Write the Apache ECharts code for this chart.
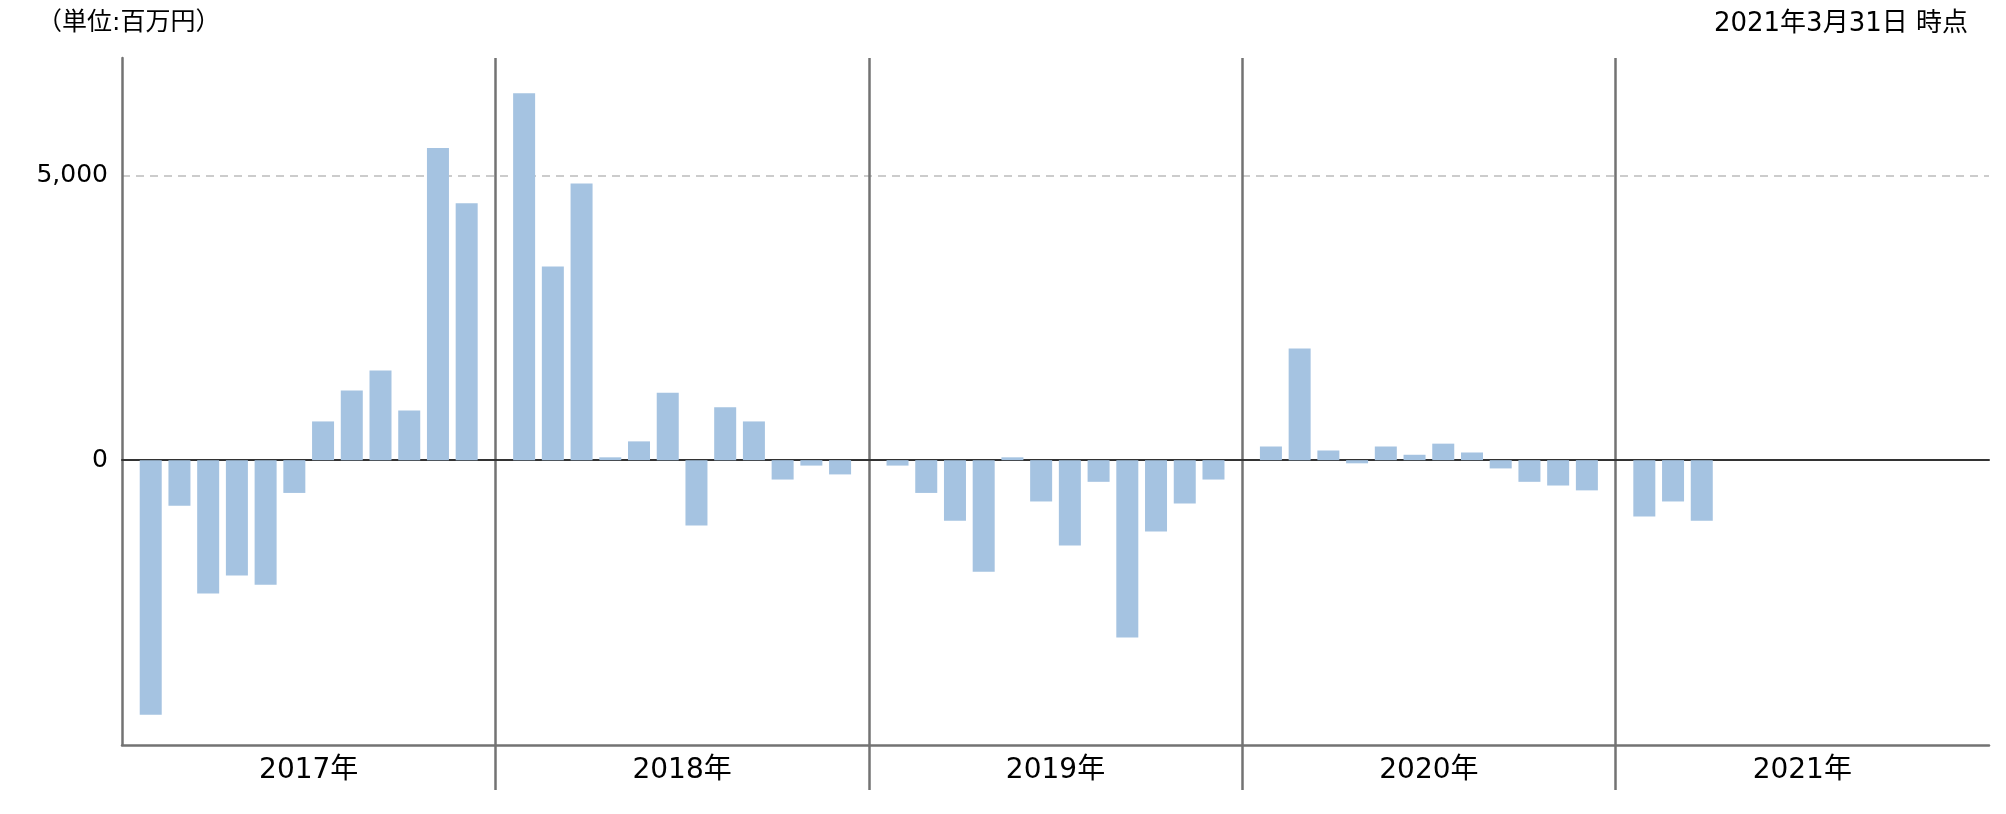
<!DOCTYPE html>
<html>
<head>
<meta charset="utf-8">
<title>月次推移</title>
<script src="https://cdn.jsdelivr.net/npm/echarts@6/dist/echarts.min.js"></script>
<style>
html, body { margin: 0; padding: 0; background: #fff; }
#main { width: 2006px; height: 814px; }
</style>
</head>
<body>
<div id="main"></div>
<script>
// 年ごとの月次の値（単位:百万円）
const years = ['2017年', '2018年', '2019年', '2020年', '2021年']
const v2017 = [-4470, -800, -2340, -2025, -2185, -575, 680, 1225, 1575, 870, 5480, 4510]
const v2018 = [6440, 3400, 4855, 50, 330, 1185, -1145, 930, 680, -340, -95, -250]
const v2019 = [-95, -575, -1065, -1960, 50, -725, -1500, -380, -3115, -1250, -760, -340]
const v2020 = [240, 1960, 170, -55, 240, 95, 290, 135, -145, -380, -445, -530]
const v2021 = [-990, -725, -1065]
// 目盛りラベル
const yLabels = [0, 5000]

const yearValues = [v2017, v2018, v2019, v2020, v2021]

// 年の境目に空きのカテゴリを入れる（区切り線もここに引く）
const monthCats = []
const barData = []
yearValues.forEach((vals, k) => {
  monthCats.push('gap' + k)
  barData.push(null)
  for (let m = 0; m < 12; m++) {
    monthCats.push(years[k] + (m + 1) + '月')
    barData.push(m < vals.length ? vals[m] : null)
  }
})
monthCats.push('gap' + yearValues.length)
barData.push(null)

const isDivider = (i) => i % 13 === 0 && i > 0 && i < monthCats.length - 1

const FONT = "'DejaVu Sans', 'Noto Sans CJK JP', sans-serif"
const GRAY = '#737373'

const chart = echarts.init(document.getElementById('main'))
chart.setOption({
  animation: false,
  backgroundColor: '#fff',
  textStyle: { fontFamily: FONT },
  title: [
    {
      text: '（単位:百万円）',
      left: 37,
      top: 11,
      padding: 0,
      textStyle: { fontSize: 25, fontWeight: 'normal', color: '#000', fontFamily: FONT }
    },
    {
      text: '2021年3月31日 時点',
      right: 38,
      top: 11,
      padding: 0,
      textStyle: { fontSize: 26, fontWeight: 'normal', color: '#000', fontFamily: FONT }
    }
  ],
  grid: [
    { left: 122, right: 17, top: 58, height: 687 },
    { left: 122, right: 17, top: 745, height: 45 }
  ],
  xAxis: [
    {
      // 月ごとの軸（0の線）
      type: 'category',
      gridIndex: 0,
      data: monthCats,
      boundaryGap: false,
      axisLine: { onZero: true, lineStyle: { color: '#333', width: 2 } },
      axisTick: { show: false },
      axisLabel: { show: false },
      splitLine: { show: true, interval: isDivider, lineStyle: { color: GRAY, width: 2.5 } }
    },
    {
      // 年のラベルと下の線
      type: 'category',
      gridIndex: 0,
      position: 'bottom',
      data: years,
      boundaryGap: true,
      axisLine: { onZero: false, lineStyle: { color: GRAY, width: 2.5 } },
      axisTick: { show: false },
      axisLabel: { color: '#000', fontSize: 28, margin: 12, fontFamily: FONT },
      splitLine: { show: false }
    },
    {
      // ラベル部分まで伸びる区切り線
      type: 'category',
      gridIndex: 1,
      data: monthCats,
      boundaryGap: false,
      axisLine: { show: false },
      axisTick: { show: false },
      axisLabel: { show: false },
      splitLine: { show: true, interval: isDivider, lineStyle: { color: GRAY, width: 2.5 } }
    }
  ],
  yAxis: [
    {
      type: 'value',
      gridIndex: 0,
      min: -5000,
      max: 7060,
      interval: 5000,
      axisLine: { show: true, lineStyle: { color: GRAY, width: 2.5 } },
      axisTick: { show: false },
      axisLabel: {
        color: '#000',
        fontSize: 25,
        margin: 14,
        fontFamily: FONT,
        showMinLabel: false,
        showMaxLabel: false,
        formatter: (v) => yLabels.includes(v) ? v.toLocaleString('en-US') : ''
      },
      splitLine: {
        show: true,
        showMinLine: false,
        showMaxLine: false,
        lineStyle: { color: '#cccccc', width: 2, type: [8, 6] }
      }
    },
    {
      type: 'value',
      gridIndex: 1,
      show: false
    }
  ],
  series: [
    {
      type: 'bar',
      xAxisIndex: 0,
      yAxisIndex: 0,
      data: barData,
      barWidth: 22,
      itemStyle: { color: '#a5c3e1' }
    }
  ]
})
</script>
</body>
</html>
